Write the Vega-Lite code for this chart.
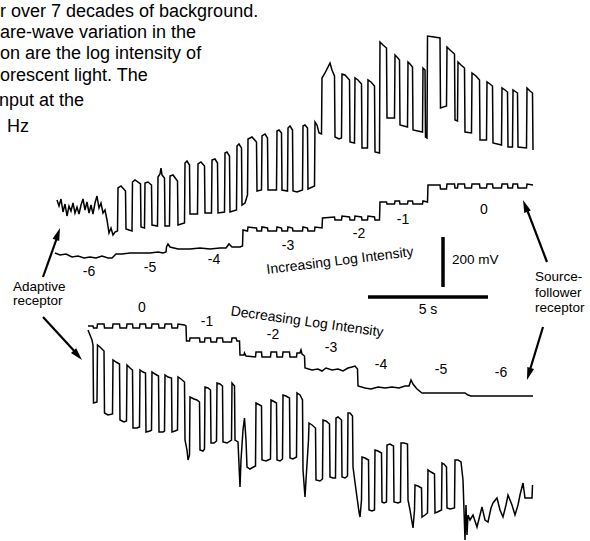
{
"$schema": "https://vega.github.io/schema/vega-lite/v6.json",
"width": 590, "height": 541, "padding": 0, "autosize": {"type": "none"},
"background": "white",
"config": {"view": {"stroke": null}, "text": {"font": "Liberation Sans", "color": "black"}},
"datasets": {
"traces": [
{"trace":"A1","x":57,"y":200},{"trace":"A1","x":59,"y":206},{"trace":"A1","x":61,"y":199},{"trace":"A1","x":63,"y":212},{"trace":"A1","x":65,"y":204},{"trace":"A1","x":67,"y":216},{"trace":"A1","x":69,"y":206},{"trace":"A1","x":71,"y":211},{"trace":"A1","x":73,"y":203},{"trace":"A1","x":75,"y":213},{"trace":"A1","x":77,"y":207},{"trace":"A1","x":79,"y":214},{"trace":"A1","x":81,"y":205},{"trace":"A1","x":83,"y":199},{"trace":"A1","x":85,"y":210},{"trace":"A1","x":87,"y":202},{"trace":"A1","x":89,"y":213},{"trace":"A1","x":91,"y":205},{"trace":"A1","x":93,"y":214},{"trace":"A1","x":95,"y":203},{"trace":"A1","x":97,"y":196},{"trace":"A1","x":99,"y":208},{"trace":"A1","x":101,"y":203},{"trace":"A1","x":103,"y":213},{"trace":"A1","x":105,"y":210},{"trace":"A1","x":107,"y":220},{"trace":"A1","x":109,"y":233},{"trace":"A1","x":111,"y":228},{"trace":"A1","x":113,"y":235},{"trace":"A1","x":115,"y":232},{"trace":"A1","x":117.5,"y":231},
{"trace":"A1","x":118,"y":188},{"trace":"A1","x":121,"y":186},{"trace":"A1","x":125.5,"y":191},{"trace":"A1","x":126,"y":229},{"trace":"A1","x":129,"y":230},{"trace":"A1","x":132,"y":231},{"trace":"A1","x":132.5,"y":182},{"trace":"A1","x":135,"y":180},{"trace":"A1","x":140.5,"y":184},{"trace":"A1","x":141,"y":227},{"trace":"A1","x":144.5,"y":228},{"trace":"A1","x":145,"y":183},{"trace":"A1","x":148,"y":182},{"trace":"A1","x":151.5,"y":185},{"trace":"A1","x":152,"y":225},{"trace":"A1","x":157.5,"y":226},{"trace":"A1","x":158,"y":177},{"trace":"A1","x":160,"y":174},{"trace":"A1","x":161,"y":168},{"trace":"A1","x":162,"y":175},{"trace":"A1","x":164.5,"y":178},{"trace":"A1","x":165,"y":226},{"trace":"A1","x":169.5,"y":226},{"trace":"A1","x":170,"y":176},{"trace":"A1","x":173,"y":175},{"trace":"A1","x":177.5,"y":181},{"trace":"A1","x":178,"y":225},{"trace":"A1","x":184.5,"y":223},
{"trace":"A1","x":185,"y":163},{"trace":"A1","x":187,"y":161},{"trace":"A1","x":189.5,"y":165},{"trace":"A1","x":190,"y":214},{"trace":"A1","x":197.5,"y":214},{"trace":"A1","x":198,"y":164},{"trace":"A1","x":201,"y":162},{"trace":"A1","x":204.5,"y":166},{"trace":"A1","x":205,"y":213},{"trace":"A1","x":211.5,"y":213},{"trace":"A1","x":212,"y":160},{"trace":"A1","x":215,"y":159},{"trace":"A1","x":217.5,"y":163},{"trace":"A1","x":218,"y":213},{"trace":"A1","x":224.5,"y":212},{"trace":"A1","x":225,"y":153},{"trace":"A1","x":227,"y":152},{"trace":"A1","x":229.5,"y":156},{"trace":"A1","x":230,"y":212},{"trace":"A1","x":236.5,"y":210},{"trace":"A1","x":237,"y":146},{"trace":"A1","x":239,"y":144},{"trace":"A1","x":241.5,"y":148},{"trace":"A1","x":242,"y":205},{"trace":"A1","x":245,"y":203},{"trace":"A1","x":247.5,"y":195},
{"trace":"A1","x":248,"y":139},{"trace":"A1","x":252,"y":137},{"trace":"A1","x":256.5,"y":142},{"trace":"A1","x":257,"y":191},{"trace":"A1","x":261.5,"y":190},{"trace":"A1","x":262,"y":136},{"trace":"A1","x":265,"y":134},{"trace":"A1","x":267.5,"y":138},{"trace":"A1","x":268,"y":190},{"trace":"A1","x":276.5,"y":190},{"trace":"A1","x":277,"y":131},{"trace":"A1","x":279,"y":130},{"trace":"A1","x":281.5,"y":133},{"trace":"A1","x":282,"y":190},{"trace":"A1","x":287.5,"y":191},{"trace":"A1","x":288,"y":128},{"trace":"A1","x":290,"y":126},{"trace":"A1","x":292.5,"y":130},{"trace":"A1","x":293,"y":191},{"trace":"A1","x":297,"y":192},{"trace":"A1","x":302.5,"y":190},{"trace":"A1","x":303,"y":126},{"trace":"A1","x":305,"y":125},{"trace":"A1","x":307.5,"y":128},{"trace":"A1","x":308,"y":189},{"trace":"A1","x":314.5,"y":186},{"trace":"A1","x":315,"y":122},{"trace":"A1","x":317,"y":125},{"trace":"A1","x":319,"y":133},{"trace":"A1","x":321.5,"y":134},
{"trace":"A1","x":322,"y":78},{"trace":"A1","x":325,"y":73},{"trace":"A1","x":328,"y":67},{"trace":"A1","x":330,"y":63},{"trace":"A1","x":332,"y":70},{"trace":"A1","x":334.5,"y":76},{"trace":"A1","x":335,"y":137},{"trace":"A1","x":339,"y":139},{"trace":"A1","x":341.5,"y":138},{"trace":"A1","x":342,"y":74},{"trace":"A1","x":345,"y":75},{"trace":"A1","x":349.5,"y":80},{"trace":"A1","x":350,"y":142},{"trace":"A1","x":354.5,"y":143},{"trace":"A1","x":355,"y":78},{"trace":"A1","x":358,"y":80},{"trace":"A1","x":361.5,"y":84},{"trace":"A1","x":362,"y":148},{"trace":"A1","x":367.5,"y":148},{"trace":"A1","x":368,"y":80},{"trace":"A1","x":371,"y":82},{"trace":"A1","x":374.5,"y":86},{"trace":"A1","x":375,"y":152},{"trace":"A1","x":379.5,"y":153},
{"trace":"A1","x":380,"y":42},{"trace":"A1","x":383,"y":45},{"trace":"A1","x":386.5,"y":48},{"trace":"A1","x":387,"y":118},{"trace":"A1","x":394.5,"y":118},{"trace":"A1","x":395,"y":55},{"trace":"A1","x":397,"y":57},{"trace":"A1","x":399.5,"y":60},{"trace":"A1","x":400,"y":125},{"trace":"A1","x":407.5,"y":127},{"trace":"A1","x":408,"y":62},{"trace":"A1","x":410,"y":64},{"trace":"A1","x":412.5,"y":67},{"trace":"A1","x":413,"y":130},{"trace":"A1","x":422.5,"y":132},{"trace":"A1","x":423,"y":68},{"trace":"A1","x":425,"y":70},{"trace":"A1","x":425.5,"y":137},{"trace":"A1","x":427,"y":138},
{"trace":"A1","x":427.5,"y":36},{"trace":"A1","x":434,"y":37},{"trace":"A1","x":440,"y":38},{"trace":"A1","x":440.5,"y":108},{"trace":"A1","x":446.5,"y":106},{"trace":"A1","x":447,"y":47},{"trace":"A1","x":450,"y":50},{"trace":"A1","x":454.5,"y":54},{"trace":"A1","x":455,"y":120},{"trace":"A1","x":457.5,"y":121},{"trace":"A1","x":458,"y":62},{"trace":"A1","x":461,"y":65},{"trace":"A1","x":464.5,"y":68},{"trace":"A1","x":465,"y":132},{"trace":"A1","x":471.5,"y":133},{"trace":"A1","x":472,"y":73},{"trace":"A1","x":476,"y":76},{"trace":"A1","x":479.5,"y":80},{"trace":"A1","x":480,"y":140},{"trace":"A1","x":486.5,"y":140},{"trace":"A1","x":487,"y":82},{"trace":"A1","x":490,"y":84},{"trace":"A1","x":492.5,"y":86},{"trace":"A1","x":493,"y":143},{"trace":"A1","x":501.5,"y":145},{"trace":"A1","x":502,"y":88},{"trace":"A1","x":505,"y":90},{"trace":"A1","x":507.5,"y":92},{"trace":"A1","x":508,"y":147},{"trace":"A1","x":512.5,"y":147},{"trace":"A1","x":513,"y":90},{"trace":"A1","x":516,"y":92},{"trace":"A1","x":517.5,"y":93},{"trace":"A1","x":518,"y":147},{"trace":"A1","x":526.5,"y":148},{"trace":"A1","x":527,"y":88},{"trace":"A1","x":530,"y":91},{"trace":"A1","x":532.5,"y":93},{"trace":"A1","x":533,"y":150},

{"trace":"S1","x":55,"y":253},{"trace":"S1","x":60,"y":255},{"trace":"S1","x":66,"y":254},{"trace":"S1","x":72,"y":257},{"trace":"S1","x":78,"y":256},{"trace":"S1","x":84,"y":258},{"trace":"S1","x":90,"y":257},{"trace":"S1","x":96,"y":258},{"trace":"S1","x":102,"y":256},{"trace":"S1","x":108,"y":258},{"trace":"S1","x":112,"y":258},{"trace":"S1","x":116,"y":254},{"trace":"S1","x":122,"y":254},{"trace":"S1","x":130,"y":253},{"trace":"S1","x":140,"y":253},{"trace":"S1","x":150,"y":253},{"trace":"S1","x":158,"y":252},{"trace":"S1","x":163,"y":253},{"trace":"S1","x":166,"y":252},{"trace":"S1","x":166.5,"y":247},{"trace":"S1","x":168,"y":244},{"trace":"S1","x":170,"y":247},{"trace":"S1","x":178,"y":249},{"trace":"S1","x":190,"y":249},{"trace":"S1","x":200,"y":248},{"trace":"S1","x":210,"y":249},{"trace":"S1","x":220,"y":248},{"trace":"S1","x":226,"y":248},{"trace":"S1","x":229,"y":244},{"trace":"S1","x":232,"y":247},{"trace":"S1","x":240,"y":247},{"trace":"S1","x":242.5,"y":246},
{"trace":"S1","x":243,"y":230},{"trace":"S1","x":247.5,"y":231},{"trace":"S1","x":248,"y":227},{"trace":"S1","x":256.5,"y":228},{"trace":"S1","x":257,"y":231},{"trace":"S1","x":261.5,"y":231},{"trace":"S1","x":262,"y":227},{"trace":"S1","x":267.5,"y":228},{"trace":"S1","x":268,"y":231},{"trace":"S1","x":276.5,"y":231},{"trace":"S1","x":277,"y":227},{"trace":"S1","x":281.5,"y":228},{"trace":"S1","x":282,"y":231},{"trace":"S1","x":287.5,"y":231},{"trace":"S1","x":288,"y":227},{"trace":"S1","x":292.5,"y":228},{"trace":"S1","x":293,"y":231},{"trace":"S1","x":302.5,"y":231},{"trace":"S1","x":303,"y":227},{"trace":"S1","x":307.5,"y":228},{"trace":"S1","x":308,"y":231},{"trace":"S1","x":314.5,"y":231},{"trace":"S1","x":315,"y":227},{"trace":"S1","x":322,"y":228},
{"trace":"S1","x":322.5,"y":218},{"trace":"S1","x":334.5,"y":217},{"trace":"S1","x":335,"y":220},{"trace":"S1","x":341.5,"y":220},{"trace":"S1","x":342,"y":216},{"trace":"S1","x":349.5,"y":217},{"trace":"S1","x":350,"y":220},{"trace":"S1","x":354.5,"y":220},{"trace":"S1","x":355,"y":216},{"trace":"S1","x":361.5,"y":217},{"trace":"S1","x":362,"y":220},{"trace":"S1","x":367.5,"y":220},{"trace":"S1","x":368,"y":216},{"trace":"S1","x":374.5,"y":217},{"trace":"S1","x":375,"y":220},{"trace":"S1","x":379.5,"y":220},
{"trace":"S1","x":380,"y":202},{"trace":"S1","x":386.5,"y":202},{"trace":"S1","x":387,"y":204},{"trace":"S1","x":394.5,"y":204},{"trace":"S1","x":395,"y":201},{"trace":"S1","x":399.5,"y":201},{"trace":"S1","x":400,"y":204},{"trace":"S1","x":407.5,"y":204},{"trace":"S1","x":408,"y":201},{"trace":"S1","x":412.5,"y":201},{"trace":"S1","x":413,"y":204},{"trace":"S1","x":422.5,"y":204},{"trace":"S1","x":423,"y":201},{"trace":"S1","x":427.5,"y":202},
{"trace":"S1","x":428,"y":185},{"trace":"S1","x":440,"y":185},{"trace":"S1","x":440.5,"y":189},{"trace":"S1","x":446.5,"y":189},{"trace":"S1","x":447,"y":184},{"trace":"S1","x":454.5,"y":184},{"trace":"S1","x":455,"y":188},{"trace":"S1","x":457.5,"y":188},{"trace":"S1","x":458,"y":184},{"trace":"S1","x":464.5,"y":184},{"trace":"S1","x":465,"y":188},{"trace":"S1","x":471.5,"y":188},{"trace":"S1","x":472,"y":184},{"trace":"S1","x":479.5,"y":184},{"trace":"S1","x":480,"y":188},{"trace":"S1","x":486.5,"y":188},{"trace":"S1","x":487,"y":184},{"trace":"S1","x":492.5,"y":184},{"trace":"S1","x":493,"y":188},{"trace":"S1","x":501.5,"y":188},{"trace":"S1","x":502,"y":184},{"trace":"S1","x":507.5,"y":184},{"trace":"S1","x":508,"y":188},{"trace":"S1","x":512.5,"y":188},{"trace":"S1","x":513,"y":184},{"trace":"S1","x":517.5,"y":184},{"trace":"S1","x":518,"y":188},{"trace":"S1","x":526.5,"y":188},{"trace":"S1","x":527,"y":184},{"trace":"S1","x":533,"y":185},

{"trace":"A2","x":88,"y":330},{"trace":"A2","x":90,"y":335},{"trace":"A2","x":92,"y":340},{"trace":"A2","x":93,"y":345},{"trace":"A2","x":93.5,"y":403},{"trace":"A2","x":97,"y":402},{"trace":"A2","x":97.5,"y":345},{"trace":"A2","x":100,"y":347},{"trace":"A2","x":104,"y":351},{"trace":"A2","x":104.5,"y":413},{"trace":"A2","x":108,"y":415},{"trace":"A2","x":112.5,"y":414},{"trace":"A2","x":113,"y":360},{"trace":"A2","x":116,"y":362},{"trace":"A2","x":119.5,"y":364},{"trace":"A2","x":120,"y":420},{"trace":"A2","x":124,"y":422},{"trace":"A2","x":126.5,"y":421},{"trace":"A2","x":127,"y":365},{"trace":"A2","x":130,"y":368},{"trace":"A2","x":132.5,"y":370},{"trace":"A2","x":133,"y":428},{"trace":"A2","x":137,"y":428},{"trace":"A2","x":139.5,"y":427},{"trace":"A2","x":140,"y":370},{"trace":"A2","x":143,"y":372},{"trace":"A2","x":145.5,"y":373},{"trace":"A2","x":146,"y":432},{"trace":"A2","x":150,"y":431},{"trace":"A2","x":151.5,"y":430},{"trace":"A2","x":152,"y":372},{"trace":"A2","x":155,"y":374},{"trace":"A2","x":158.5,"y":376},{"trace":"A2","x":159,"y":432},{"trace":"A2","x":163,"y":432},{"trace":"A2","x":164.5,"y":431},{"trace":"A2","x":165,"y":375},{"trace":"A2","x":168,"y":377},{"trace":"A2","x":171.5,"y":378},{"trace":"A2","x":172,"y":432},{"trace":"A2","x":175,"y":431},{"trace":"A2","x":177.5,"y":430},{"trace":"A2","x":178,"y":377},{"trace":"A2","x":181,"y":379},{"trace":"A2","x":184.5,"y":382},{"trace":"A2","x":185,"y":440},{"trace":"A2","x":187,"y":450},{"trace":"A2","x":188,"y":460},{"trace":"A2","x":189.5,"y":455},
{"trace":"A2","x":190,"y":397},{"trace":"A2","x":194,"y":399},{"trace":"A2","x":197,"y":400},{"trace":"A2","x":199.5,"y":402},{"trace":"A2","x":200,"y":450},{"trace":"A2","x":203,"y":451},{"trace":"A2","x":204.5,"y":449},{"trace":"A2","x":205,"y":387},{"trace":"A2","x":208,"y":388},{"trace":"A2","x":210.5,"y":390},{"trace":"A2","x":211,"y":443},{"trace":"A2","x":214,"y":443},{"trace":"A2","x":216.5,"y":441},{"trace":"A2","x":217,"y":383},{"trace":"A2","x":220,"y":384},{"trace":"A2","x":222.5,"y":386},{"trace":"A2","x":223,"y":442},{"trace":"A2","x":227,"y":443},{"trace":"A2","x":231.5,"y":440},{"trace":"A2","x":232,"y":383},{"trace":"A2","x":234.5,"y":386},{"trace":"A2","x":235,"y":440},{"trace":"A2","x":238,"y":442},{"trace":"A2","x":240,"y":487},{"trace":"A2","x":241,"y":460},{"trace":"A2","x":243,"y":430},{"trace":"A2","x":244.5,"y":418},{"trace":"A2","x":246,"y":440},{"trace":"A2","x":247,"y":467},{"trace":"A2","x":250,"y":469},{"trace":"A2","x":255.5,"y":466},{"trace":"A2","x":256,"y":403},{"trace":"A2","x":258,"y":404},{"trace":"A2","x":261.5,"y":406},{"trace":"A2","x":262,"y":460},{"trace":"A2","x":266,"y":461},{"trace":"A2","x":270.5,"y":459},{"trace":"A2","x":271,"y":400},{"trace":"A2","x":273,"y":401},{"trace":"A2","x":276.5,"y":403},{"trace":"A2","x":277,"y":460},{"trace":"A2","x":280,"y":461},{"trace":"A2","x":282.5,"y":459},{"trace":"A2","x":283,"y":395},{"trace":"A2","x":286,"y":396},{"trace":"A2","x":289.5,"y":398},{"trace":"A2","x":290,"y":458},{"trace":"A2","x":293,"y":459},{"trace":"A2","x":296.5,"y":457},{"trace":"A2","x":297,"y":393},{"trace":"A2","x":300,"y":395},{"trace":"A2","x":302.5,"y":400},{"trace":"A2","x":303,"y":470},{"trace":"A2","x":305,"y":497},{"trace":"A2","x":306,"y":480},{"trace":"A2","x":308.5,"y":440},
{"trace":"A2","x":309,"y":423},{"trace":"A2","x":312,"y":425},{"trace":"A2","x":315.5,"y":428},{"trace":"A2","x":316,"y":480},{"trace":"A2","x":320,"y":481},{"trace":"A2","x":322.5,"y":479},{"trace":"A2","x":323,"y":420},{"trace":"A2","x":326,"y":421},{"trace":"A2","x":329.5,"y":424},{"trace":"A2","x":330,"y":477},{"trace":"A2","x":333,"y":478},{"trace":"A2","x":335.5,"y":478},{"trace":"A2","x":336,"y":418},{"trace":"A2","x":338,"y":417},{"trace":"A2","x":341.5,"y":420},{"trace":"A2","x":342,"y":477},{"trace":"A2","x":345,"y":478},{"trace":"A2","x":347.5,"y":476},{"trace":"A2","x":348,"y":413},{"trace":"A2","x":350,"y":413},{"trace":"A2","x":352.5,"y":416},{"trace":"A2","x":353,"y":467},{"trace":"A2","x":356,"y":490},{"trace":"A2","x":359,"y":512},{"trace":"A2","x":360,"y":517},{"trace":"A2","x":361.5,"y":500},{"trace":"A2","x":362,"y":457},{"trace":"A2","x":365,"y":458},{"trace":"A2","x":368.5,"y":460},{"trace":"A2","x":369,"y":510},{"trace":"A2","x":372,"y":511},{"trace":"A2","x":374.5,"y":510},{"trace":"A2","x":375,"y":450},{"trace":"A2","x":378,"y":451},{"trace":"A2","x":381.5,"y":453},{"trace":"A2","x":382,"y":502},{"trace":"A2","x":384,"y":503},{"trace":"A2","x":386.5,"y":502},{"trace":"A2","x":387,"y":445},{"trace":"A2","x":390,"y":444},{"trace":"A2","x":393.5,"y":446},{"trace":"A2","x":394,"y":502},{"trace":"A2","x":398,"y":503},{"trace":"A2","x":400.5,"y":502},{"trace":"A2","x":401,"y":443},{"trace":"A2","x":404,"y":443},{"trace":"A2","x":407.5,"y":444},{"trace":"A2","x":408,"y":500},{"trace":"A2","x":410,"y":510},{"trace":"A2","x":413,"y":528},{"trace":"A2","x":414.5,"y":510},
{"trace":"A2","x":415,"y":485},{"trace":"A2","x":418,"y":486},{"trace":"A2","x":421.5,"y":488},{"trace":"A2","x":422,"y":517},{"trace":"A2","x":425,"y":515},{"trace":"A2","x":427.5,"y":513},{"trace":"A2","x":428,"y":470},{"trace":"A2","x":431,"y":472},{"trace":"A2","x":434.5,"y":474},{"trace":"A2","x":435,"y":513},{"trace":"A2","x":437.5,"y":512},{"trace":"A2","x":441.5,"y":510},{"trace":"A2","x":442,"y":463},{"trace":"A2","x":444,"y":464},{"trace":"A2","x":446.5,"y":467},{"trace":"A2","x":447,"y":508},{"trace":"A2","x":450,"y":509},{"trace":"A2","x":454.5,"y":508},{"trace":"A2","x":455,"y":460},{"trace":"A2","x":458,"y":460},{"trace":"A2","x":461,"y":462},{"trace":"A2","x":463,"y":480},{"trace":"A2","x":464,"y":510},{"trace":"A2","x":465,"y":540},{"trace":"A2","x":466,"y":505},{"trace":"A2","x":467,"y":535},{"trace":"A2","x":468,"y":515},{"trace":"A2","x":470,"y":520},{"trace":"A2","x":473,"y":515},{"trace":"A2","x":477,"y":527},{"trace":"A2","x":480,"y":515},{"trace":"A2","x":482,"y":507},{"trace":"A2","x":485,"y":520},{"trace":"A2","x":488,"y":522},{"trace":"A2","x":491,"y":508},{"trace":"A2","x":493,"y":503},{"trace":"A2","x":497,"y":498},{"trace":"A2","x":500,"y":510},{"trace":"A2","x":503,"y":517},{"trace":"A2","x":506,"y":505},{"trace":"A2","x":508,"y":495},{"trace":"A2","x":510,"y":500},{"trace":"A2","x":512,"y":505},{"trace":"A2","x":515,"y":515},{"trace":"A2","x":518,"y":505},{"trace":"A2","x":520,"y":495},{"trace":"A2","x":523,"y":483},{"trace":"A2","x":525,"y":498},{"trace":"A2","x":528,"y":498},{"trace":"A2","x":532,"y":498},{"trace":"A2","x":532.5,"y":485},

{"trace":"S2","x":88,"y":326},{"trace":"S2","x":93,"y":326},{"trace":"S2","x":93.5,"y":328},{"trace":"S2","x":97,"y":328},{"trace":"S2","x":97.5,"y":324},{"trace":"S2","x":104,"y":324},{"trace":"S2","x":104.5,"y":328},{"trace":"S2","x":112.5,"y":328},{"trace":"S2","x":113,"y":324},{"trace":"S2","x":119.5,"y":324},{"trace":"S2","x":120,"y":328},{"trace":"S2","x":126.5,"y":328},{"trace":"S2","x":127,"y":324},{"trace":"S2","x":132.5,"y":324},{"trace":"S2","x":133,"y":328},{"trace":"S2","x":139.5,"y":328},{"trace":"S2","x":140,"y":324},{"trace":"S2","x":145.5,"y":324},{"trace":"S2","x":146,"y":328},{"trace":"S2","x":151.5,"y":328},{"trace":"S2","x":152,"y":324},{"trace":"S2","x":158.5,"y":324},{"trace":"S2","x":159,"y":328},{"trace":"S2","x":164.5,"y":328},{"trace":"S2","x":165,"y":324},{"trace":"S2","x":171.5,"y":324},{"trace":"S2","x":172,"y":328},{"trace":"S2","x":177.5,"y":328},{"trace":"S2","x":178,"y":324},{"trace":"S2","x":184.5,"y":325},{"trace":"S2","x":186,"y":326},
{"trace":"S2","x":186.5,"y":341},{"trace":"S2","x":189.5,"y":341},{"trace":"S2","x":190,"y":338},{"trace":"S2","x":199.5,"y":338},{"trace":"S2","x":200,"y":342},{"trace":"S2","x":204.5,"y":342},{"trace":"S2","x":205,"y":338},{"trace":"S2","x":210.5,"y":338},{"trace":"S2","x":211,"y":342},{"trace":"S2","x":216.5,"y":342},{"trace":"S2","x":217,"y":338},{"trace":"S2","x":222.5,"y":338},{"trace":"S2","x":223,"y":342},{"trace":"S2","x":231.5,"y":342},{"trace":"S2","x":232,"y":338},{"trace":"S2","x":236,"y":338},{"trace":"S2","x":237,"y":341},{"trace":"S2","x":239.5,"y":341},
{"trace":"S2","x":240,"y":355},{"trace":"S2","x":244,"y":355},{"trace":"S2","x":244.5,"y":353},{"trace":"S2","x":246,"y":356},{"trace":"S2","x":255.5,"y":357},{"trace":"S2","x":256,"y":352},{"trace":"S2","x":261.5,"y":352},{"trace":"S2","x":262,"y":357},{"trace":"S2","x":270.5,"y":357},{"trace":"S2","x":271,"y":352},{"trace":"S2","x":276.5,"y":352},{"trace":"S2","x":277,"y":357},{"trace":"S2","x":282.5,"y":357},{"trace":"S2","x":283,"y":352},{"trace":"S2","x":289.5,"y":352},{"trace":"S2","x":290,"y":357},{"trace":"S2","x":296.5,"y":357},{"trace":"S2","x":297,"y":353},{"trace":"S2","x":300,"y":353},{"trace":"S2","x":301,"y":350},{"trace":"S2","x":302,"y":354},{"trace":"S2","x":304.5,"y":356},
{"trace":"S2","x":305,"y":368},{"trace":"S2","x":312,"y":370},{"trace":"S2","x":318,"y":369},{"trace":"S2","x":322,"y":371},{"trace":"S2","x":326,"y":368},{"trace":"S2","x":332,"y":370},{"trace":"S2","x":338,"y":369},{"trace":"S2","x":343,"y":371},{"trace":"S2","x":348,"y":368},{"trace":"S2","x":352,"y":367},{"trace":"S2","x":355,"y":366},{"trace":"S2","x":357.5,"y":369},
{"trace":"S2","x":358,"y":386},{"trace":"S2","x":365,"y":388},{"trace":"S2","x":371,"y":389},{"trace":"S2","x":378,"y":387},{"trace":"S2","x":385,"y":388},{"trace":"S2","x":392,"y":387},{"trace":"S2","x":399,"y":388},{"trace":"S2","x":405,"y":386},{"trace":"S2","x":409,"y":386},{"trace":"S2","x":411,"y":380},{"trace":"S2","x":413,"y":384},{"trace":"S2","x":417,"y":389},{"trace":"S2","x":422,"y":393},{"trace":"S2","x":440,"y":393},{"trace":"S2","x":455,"y":393},{"trace":"S2","x":465,"y":393},{"trace":"S2","x":468,"y":395},{"trace":"S2","x":471,"y":396},{"trace":"S2","x":500,"y":396},{"trace":"S2","x":533,"y":396}
],
"bars": [
{"name":"200 mV","x":443,"x2":443,"y":237,"y2":287},
{"name":"5 s","x":368,"x2":488,"y":297,"y2":297}
],
"arrows": [
{"name":"upper left","x":43,"y":277,"x2":58,"y2":235,"tipx":60,"tipy":228,"dir":19},
{"name":"lower left","x":43,"y":317,"x2":77,"y2":354,"tipx":82,"tipy":360,"dir":138},
{"name":"upper right","x":547,"y":262,"x2":526,"y2":207,"tipx":523,"tipy":200,"dir":-21},
{"name":"lower right","x":543,"y":327,"x2":529,"y2":373,"tipx":527,"tipy":380,"dir":-163}
],
"caption": [
{"label":"r over 7 decades of background.","x":0,"y":12},
{"label":"are-wave variation in the","x":0,"y":33},
{"label":"on are the log intensity of","x":0,"y":54},
{"label":"orescent light. The","x":0,"y":76},
{"label":"nput at the","x":-1,"y":101},
{"label":"Hz","x":7,"y":127}
],
"leftlabels": [
{"label":"Adaptive","x":13,"y":287},
{"label":"receptor","x":13,"y":301},
{"label":"Source-","x":535,"y":277},
{"label":"follower","x":535,"y":293},
{"label":"receptor","x":535,"y":308},
{"label":"200 mV","x":452,"y":260}
],
"centerlabels": [
{"label":"-6","x":89,"y":272},{"label":"-5","x":150,"y":268},{"label":"-4","x":214,"y":260},{"label":"-3","x":288,"y":246},{"label":"-2","x":359,"y":234},{"label":"-1","x":403,"y":220},{"label":"0","x":484,"y":210},
{"label":"0","x":142,"y":308},{"label":"-1","x":207,"y":322},{"label":"-2","x":273,"y":335},{"label":"-3","x":331,"y":348},{"label":"-4","x":381,"y":365},{"label":"-5","x":441,"y":370},{"label":"-6","x":501,"y":373},
{"label":"5 s","x":428,"y":310}
]
},
"encoding": {
"x": {"field":"x","type":"quantitative","scale":{"domain":[0,590],"nice":false,"zero":false},"axis":null},
"y": {"field":"y","type":"quantitative","scale":{"domain":[0,541],"nice":false,"zero":false,"reverse":true},"axis":null}
},
"layer": [
{"data":{"name":"traces"},"mark":{"type":"line","color":"black","strokeWidth":1.5},"encoding":{"detail":{"field":"trace","type":"nominal"}}},
{"data":{"name":"bars"},"mark":{"type":"rule","color":"black","strokeWidth":3.5},"encoding":{"x2":{"field":"x2"},"y2":{"field":"y2"}}},
{"data":{"name":"arrows"},"mark":{"type":"rule","color":"black","strokeWidth":2.2},"encoding":{"x2":{"field":"x2"},"y2":{"field":"y2"}}},
{"data":{"name":"arrows"},"mark":{"type":"point","filled":true,"color":"black","opacity":1,"size":196,"shape":"M0,0L0.5,1.8L-0.5,1.8Z"},"encoding":{"x":{"field":"tipx","type":"quantitative"},"y":{"field":"tipy","type":"quantitative"},"angle":{"field":"dir","type":"quantitative","scale":null}}},
{"data":{"name":"caption"},"mark":{"type":"text","align":"left","baseline":"middle","fontSize":18},"encoding":{"text":{"field":"label"}}},
{"data":{"name":"leftlabels"},"mark":{"type":"text","align":"left","baseline":"middle","fontSize":13.5},"encoding":{"text":{"field":"label"}}},
{"data":{"name":"centerlabels"},"mark":{"type":"text","align":"center","baseline":"middle","fontSize":14},"encoding":{"text":{"field":"label"}}},
{"data":{"values":[{"label":"Increasing Log Intensity","x":340,"y":261}]},"mark":{"type":"text","align":"center","baseline":"middle","fontSize":14,"angle":-7},"encoding":{"text":{"field":"label"}}},
{"data":{"values":[{"label":"Decreasing Log Intensity","x":307,"y":322}]},"mark":{"type":"text","align":"center","baseline":"middle","fontSize":14,"angle":8},"encoding":{"text":{"field":"label"}}}
]
}
